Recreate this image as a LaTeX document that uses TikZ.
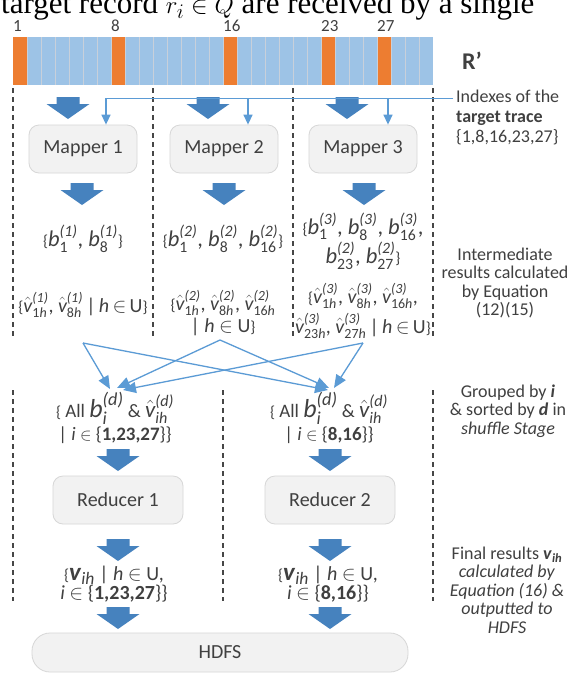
\documentclass[tikz,border=0pt]{standalone}
\usepackage{amsmath}
\usepackage{fontspec}
\setmainfont{Carlito}
\newfontfamily\seriffont{Liberation Serif}
\usetikzlibrary{arrows.meta}
\definecolor{orng}{RGB}{237,125,49}
\definecolor{lblue}{RGB}{157,195,230}
\definecolor{cellsep}{RGB}{200,208,218}
\definecolor{tblue}{RGB}{91,155,213}
\definecolor{kblue}{RGB}{70,130,190}
\definecolor{boxfill}{RGB}{242,242,242}
\definecolor{boxline}{RGB}{215,215,215}
\definecolor{txt}{RGB}{64,64,64}
\definecolor{dashc}{RGB}{70,70,70}
\newcommand\lb{{\fontsize{16}{16}\selectfont\{}}
\newcommand\rb{{\fontsize{16}{16}\selectfont\}}}
\newcommand\bsym[2]{\textit{b}_{\text{#1}}^{\textit{(#2)}}}
\newcommand\vsym[2]{\hat{\textit{v}}_{\text{#1}}^{\textit{(#2)}}}
\tikzset{
  bigarrow/.pic={\fill[kblue] (-11.5,0) -- (11.5,0) -- (11.5,7) -- (21.5,7) -- (0,22) -- (-21.5,7) -- (-11.5,7) -- cycle;},
  procbox/.style={draw=boxline, fill=boxfill, rounded corners=10pt, line width=0.8pt, text=txt,
    font=\fontsize{20}{24}\selectfont, minimum width=108pt, minimum height=48pt, inner sep=0pt},
  sepline/.style={dashc, dash pattern=on 5pt off 4pt, line width=1.3pt},
  idxarrow/.style={tblue, line width=1.4pt, -{Triangle[length=10pt,width=9pt]}},
  shufarrow/.style={tblue, line width=1.3pt, -{Triangle[length=13pt,width=11pt]}},
  lbl/.style={text=txt, font=\fontsize{18}{18.5}\selectfont, align=center, inner sep=0pt},
  mthb/.style={text=txt, font=\fontsize{22.5}{29}\selectfont, align=center, inner sep=0pt},
  mthv/.style={text=txt, font=\fontsize{20}{30}\selectfont, align=center, inner sep=0pt},
}
\begin{document}
\begin{tikzpicture}[x=1pt,y=-1pt]
\useasboundingbox (0,0) rectangle (586,673);
\clip (0,0) rectangle (586,673);
\fill[white] (0,0) rectangle (586,673);

% cropped caption text at the top
\node[anchor=base west, font=\seriffont\fontsize{31}{31}\selectfont, inner sep=0pt] (head) at (1,13)
  {target record $r_i \in Q$ are received by a single};

% the R' bar
\foreach \i in {0,...,29} \fill[lblue] (13+\i*14,37) rectangle +(14,48);
\foreach \i in {0,7,15,22,26} \fill[orng] (13+\i*14,37) rectangle +(14,48);
\foreach \i in {1,...,29} \draw[cellsep, line width=0.8pt] (13+\i*14,37) -- +(0,48);
\foreach \k in {1,8,16,23,27}
  \node[anchor=base west, inner sep=0pt, text=txt, font=\fontsize{17}{17}\selectfont] (n\k) at (13+\k*14-14,31) {\k};
\node[text=txt, font=\bfseries\fontsize{24}{24}\selectfont] (rp) at (472,61) {R’};

% separators
\foreach \x in {13,153,293,433} \draw[sepline] (\x,88) -- (\x,338);
\foreach \x in {13,223,433} \draw[sepline] (\x,390) -- (\x,601);

% mappers
\node[procbox] (m1) at (83,149) {Mapper 1};
\node[procbox] (m2) at (224,149) {Mapper 2};
\node[procbox] (m3) at (363,149) {Mapper 3};

\pic at (68,97) {bigarrow};
\pic at (208,97) {bigarrow};
\pic at (347,97) {bigarrow};
\pic at (82,183) {bigarrow};
\pic at (224,183) {bigarrow};
\pic at (364,183) {bigarrow};

% index line
\node[lbl, anchor=north west, align=left, font=\fontsize{18}{20}\selectfont] (idx) at (456,90)
  {Indexes of the\\ \textbf{target trace}\\ \{1,8,16,23,27\}};
\coordinate (idxstart) at (453,98.5);
\draw[idxarrow] (idxstart) -| ([xshift=23pt]m1.north);
\draw[idxarrow] ([xshift=24pt]m2.north |- idxstart) -- ([xshift=24pt]m2.north);
\draw[idxarrow] ([xshift=25pt]m3.north |- idxstart) -- ([xshift=25pt]m3.north);

% intermediate results
\node[mthb] (c1b) at (83,239) {\lb$\bsym{1}{1}$, $\bsym{8}{1}$\rb};
\node[mthv] (c1v) at (83,305) {\lb$\vsym{1\textit{h}}{1}$, $\vsym{8\textit{h}}{1}$\,|\,\textit{h}\,$\in$\,U\rb};
\node[mthb] (c2b) at (223,239) {\lb$\bsym{1}{2}$, $\bsym{8}{2}$, $\bsym{16}{2}$\rb};
\node[mthv, font=\fontsize{20}{22}\selectfont] (c2v) at (223,313) {\lb$\vsym{1\textit{h}}{2}$, $\vsym{8\textit{h}}{2}$, $\vsym{16\textit{h}}{2}$\\ | \textit{h} $\in$ U\rb};
\node[mthb] (c3b) at (363,241) {\lb$\bsym{1}{3}$, $\bsym{8}{3}$, $\bsym{16}{3}$,\\ $\bsym{23}{2}$, $\bsym{27}{2}$\rb};
\node[mthv] (c3v) at (363,311) {\lb$\vsym{1\textit{h}}{3}$, $\vsym{8\textit{h}}{3}$, $\vsym{16\textit{h}}{3}$,\\ $\vsym{23\textit{h}}{3}$, $\vsym{27\textit{h}}{3}$\,|\,\textit{h}\,$\in$\,U\rb};

\node[lbl] (inter) at (505,283) {Intermediate\\results calculated\\by Equation\\(12)(15)};

% shuffle
\coordinate (s1) at (83,343);
\coordinate (s2) at (220,340);
\coordinate (s3) at (363,343);
\coordinate (L1) at (110,389);
\coordinate (L2) at (117,388);
\coordinate (L3) at (123,390);
\coordinate (R1) at (328,390);
\coordinate (R2) at (329,388);
\coordinate (R3) at (334,388);
\draw[shufarrow] (s1) -- (L1);
\draw[shufarrow] (s1) -- (R1);
\draw[shufarrow] (s2) -- (L2);
\draw[shufarrow] (s2) -- (R2);
\draw[shufarrow] (s3) -- (L3);
\draw[shufarrow] (s3) -- (R3);

\node[mthv, font=\fontsize{19}{23}\selectfont] (g1) at (115,418)
  {\lb{} All {\fontsize{26}{26}\selectfont$\textit{b}_{\textit{i}}^{\textit{(d)}}$} \& {\fontsize{23}{23}\selectfont$\hat{\textit{v}}_{\textit{ih}}^{\textit{(d)}}$}\\ | \textit{i} $\in$ \{\textbf{1,23,27}\}\}};
\node[mthv, font=\fontsize{19}{23}\selectfont] (g2) at (329,418)
  {\lb{} All {\fontsize{26}{26}\selectfont$\textit{b}_{\textit{i}}^{\textit{(d)}}$} \& {\fontsize{23}{23}\selectfont$\hat{\textit{v}}_{\textit{ih}}^{\textit{(d)}}$}\\ | \textit{i} $\in$ \{\textbf{8,16}\}\}};
\node[lbl] (grp) at (508,411) {Grouped by \textbf{\textit{i}}\\ \& sorted by \textbf{\textit{d}} in\\ \textit{shuffle Stage}};

\pic at (118,449) {bigarrow};
\pic at (330,449) {bigarrow};

% reducers
\node[procbox, minimum width=130pt] (r1) at (118,500) {Reducer 1};
\node[procbox, minimum width=130pt] (r2) at (330,500) {Reducer 2};
\pic at (118,539) {bigarrow};
\pic at (330,539) {bigarrow};

\node[mthv, font=\fontsize{20}{19}\selectfont] (f1) at (114,584)
  {\lb{\fontsize{25}{25}\selectfont$\textbf{\textit{v}}_{\textit{ih}}$} | \textit{h} $\in$ U,\\ \textit{i} $\in$ \{\textbf{1,23,27}\}\}};
\node[mthv, font=\fontsize{20}{19}\selectfont] (f2) at (328,584)
  {\lb{\fontsize{25}{25}\selectfont$\textbf{\textit{v}}_{\textit{ih}}$} | \textit{h} $\in$ U,\\ \textit{i} $\in$ \{\textbf{8,16}\}\}};
\node[lbl] (fin) at (507,590) {Final results $\textbf{\textit{v}}_{\textbf{\textit{ih}}}$\\ \textit{calculated by}\\ \textit{Equation (16) \&}\\ \textit{outputted to}\\ \textit{HDFS}};

\pic at (118,607) {bigarrow};
\pic at (330,607) {bigarrow};

% HDFS
\node[procbox, minimum width=376pt, minimum height=39pt, rounded corners=18pt] (hdfs) at (220,652.5) {HDFS};
\end{tikzpicture}
\end{document}
